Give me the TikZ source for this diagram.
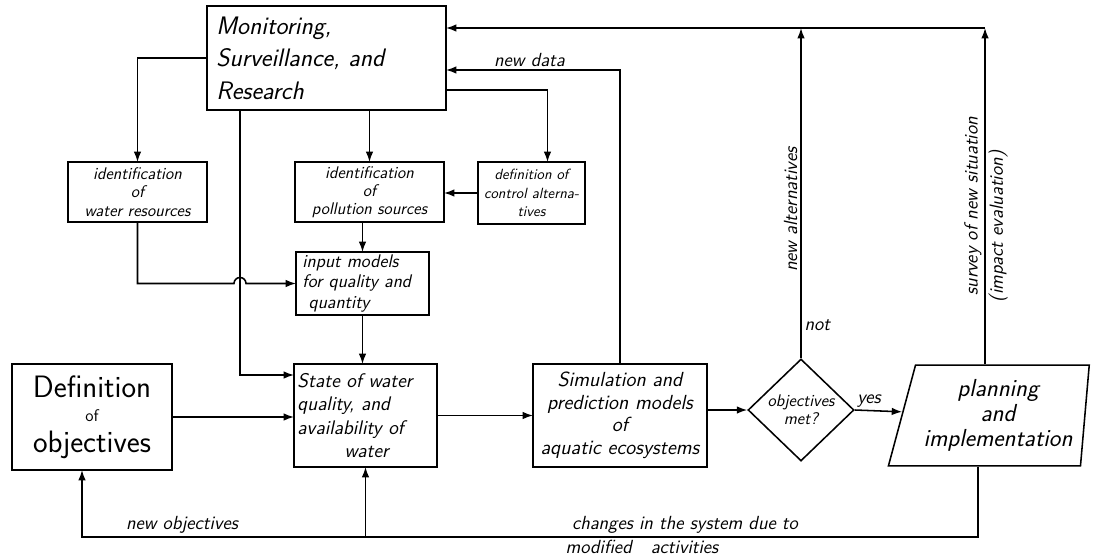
\documentclass[tikz,border=0pt]{standalone}
\usepackage{tikz}
\usetikzlibrary{arrows.meta, calc, positioning, shapes.geometric}

\begin{document}
\begin{tikzpicture}[% styles used in image code
            x = 0.025cm, y = -0.025cm, % pixel grid, y runs downwards
            > = {Latex[length=2.6mm, width=1.9mm]},
   line width = 1.1pt,
box/.style 2 args = {draw, rectangle,
              minimum width=#1*0.025cm, minimum height=#2*0.025cm,
              inner sep=2pt, outer sep=0pt, align=center,
              font=\sffamily\itshape\fontsize{12}{13}\selectfont},
txt/.style = {font=\sffamily\itshape\fontsize{13.5}{15}\selectfont,
              inner sep=2pt},
                    ]
	\useasboundingbox (0,0) rectangle (1111,558);

	% boxes
	\node[box={239}{104}, align=left, text width=5.5cm,
	      font=\sffamily\itshape\fontsize{18}{23}\selectfont]
	      (mon) at (326.5,58) {Monitoring,\\ Surveillance, and\\ Research};
	\node[box={139}{60}] (water) at (137.5,192) {identification\\ of\\ water resources};
	\node[box={149}{60}] (pol) at (369.5,192) {identification\\ of\\ pollution sources};
	\node[box={107}{62}, font=\sffamily\itshape\fontsize{10.5}{13}\selectfont]
	      (def) at (531.5,193) {definition of\\ control alterna-\\ tives};
	\node[box={133}{63}, align=left, text width=3cm,
	      font=\sffamily\itshape\fontsize{13}{14.5}\selectfont]
	      (inp) at (362.5,283.5) {input models\\ for quality and\\ \ quantity};
	\node[box={143}{103}, align=left, text width=3.4cm,
	      font=\sffamily\itshape\fontsize{14}{16.5}\selectfont]
	      (state) at (365.5,415.5) {State of water\\ quality, and\\ availability of\\ \hspace*{2.4em}water};
	\node[box={160}{106}, font=\sffamily\fontsize{22}{20}\selectfont]
	      (obj) at (92,417) {Definition\\[-3pt] {\fontsize{12}{12}\selectfont of}\\[2pt] objectives};
	\node[box={174}{103}, font=\sffamily\itshape\fontsize{14.5}{16}\selectfont]
	      (sim) at (620,415.5) {Simulation and\\ prediction models\\ of\\ aquatic ecosystems};
	\node[draw, diamond, aspect=1, minimum width=106*0.025cm, minimum height=102*0.025cm,
	      inner sep=0pt, align=center, font=\sffamily\itshape\fontsize{12}{13}\selectfont]
	      (dia) at (801,410) {objectives\\ met?};
	\node[draw, trapezium, trapezium left angle=72, trapezium right angle=96,
	      trapezium stretches=true, minimum width=5.02cm, minimum height=2.52cm,
	      inner sep=2pt, align=center, font=\sffamily\itshape\fontsize{17.5}{18}\selectfont]
	      (plan) at (998,415.5) {planning\\ and\\ implementation};

	% helper points
	\coordinate (hop) at (inp.west -| 240,0);
	\coordinate (ret) at ($(mon.north east)+(0,22)$);
	\coordinate (back) at (82,537);
	\coordinate (up) at ($(plan.north)+(-13,0)$);
	\coordinate (down) at ($(plan.south)+(-20,0)$);

	% connectors
	\draw[->] (mon.west) -| (water.north);
	\draw[->] (mon.south -| pol.north) -- (pol.north);
	\draw[->] (mon.south -| hop) |- ($(state.north west)+(0,11)$);
	\draw[->] ($(mon.north east)+(0,84)$) -| ($(def.north)+(16,0)$);
	\draw[->] (def.west) -- (def.west -| pol.east);
	\draw[->] (pol.south -| inp.north) -- (inp.north);
	\draw[->] (water.south) |- ($(hop)+(-6,0)$)
	          arc[start angle=180, end angle=0, radius=0.15cm] -- (inp.west);
	\draw[->] (inp.south) -- (inp.south |- state.north);
	\draw[->] (obj.east) -- (obj.east -| state.west);
	\draw[->] (state.east) -- (state.east -| sim.west);
	\draw[->] (dia.west -| sim.east) -- (dia.west);
	\draw[->] (dia.east) -- (plan) node[txt, pos=0.3, above] {yes};

	% feedback to monitoring
	\draw[->] (sim.north) |- ($(mon.north east)+(0,64)$)
	          node[txt, pos=0.76, above] {new data};
	\draw[->] (dia.north) -- (dia.north |- ret)
	          node[txt, pos=0.45, sloped, above] {new alternatives}
	          node[txt, pos=0.1, right] {not};
	\draw[->] (up) -- (up |- ret)
	          node[txt, pos=0.47, sloped, above] {survey of new situation}
	          node[txt, pos=0.41, sloped, below] {(impact evaluation)};
	\draw[->] (up |- ret) -- (ret);

	% feedback to objectives and state
	\draw[->] (down) |- (back) -- (back |- obj.south);
	\draw[->] (state.south |- back) -- (state.south);
	\node[txt, above] (newobj) at (182,537) {new objectives};
	\node[txt, above] (chg) at (685,537) {changes in the system due to};
	\node[txt, below] (mod) at (642,537) {modified\quad activities};
\end{tikzpicture}
\end{document}
